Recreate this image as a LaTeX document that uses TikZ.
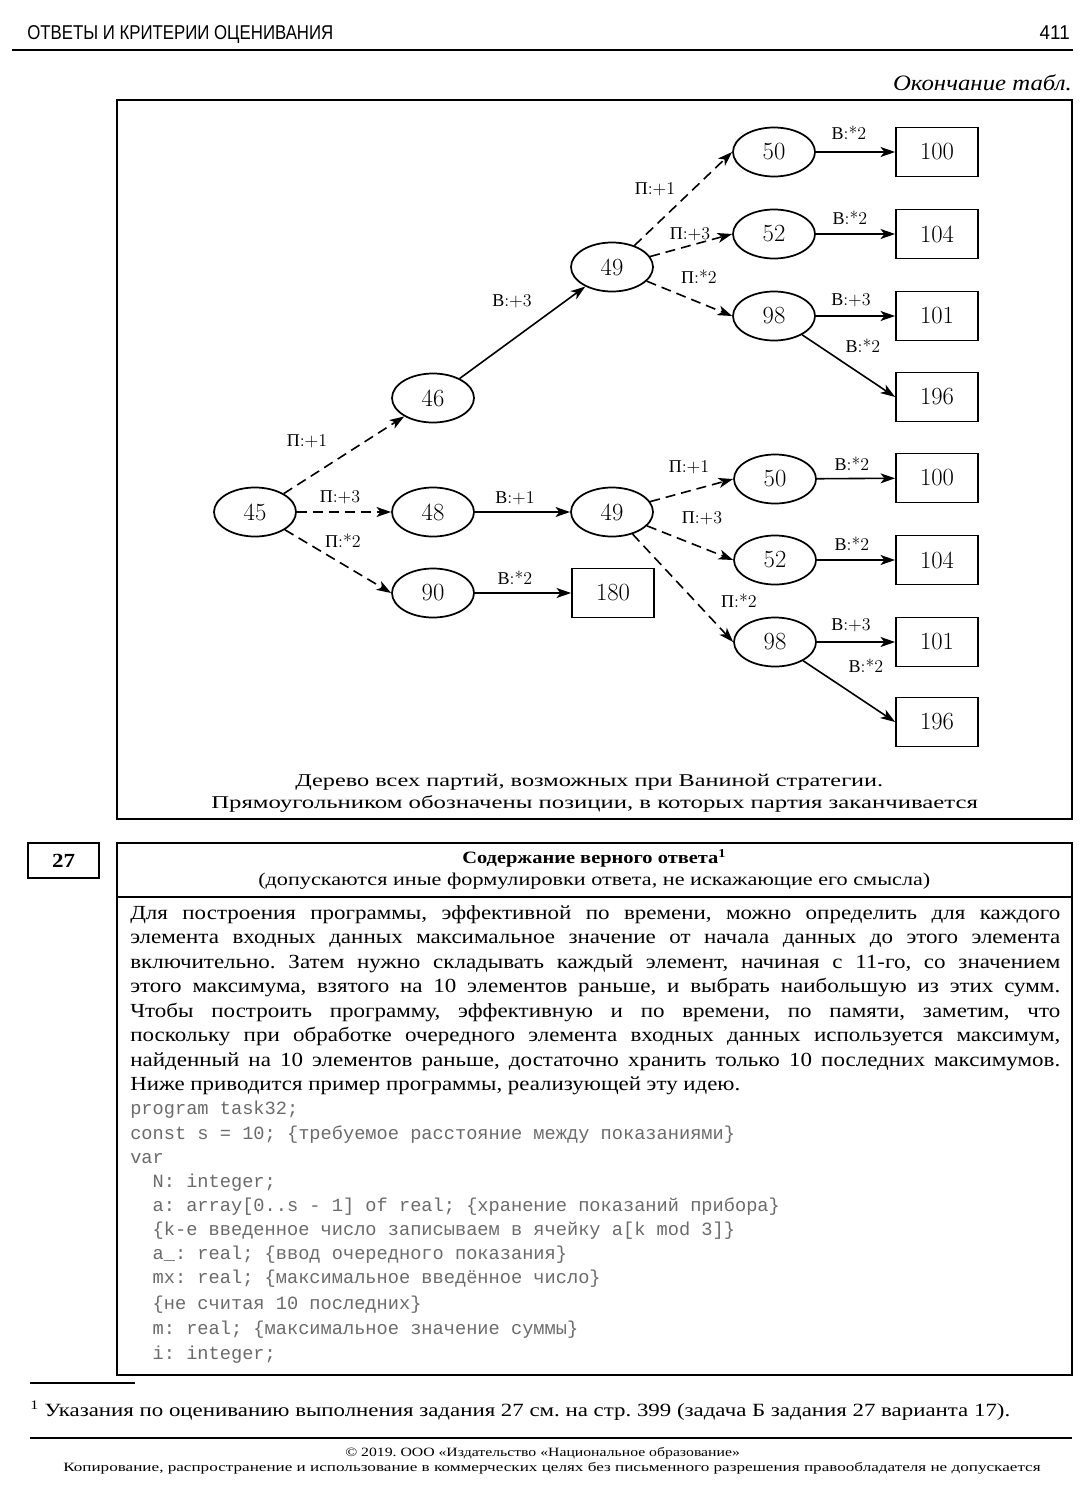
\documentclass[tikz,border=0pt]{standalone}
\usepackage{graphicx}
\usepackage{xcolor}
\usepackage{fontspec}
\setmainfont{Liberation Serif}[FakeStretch=1.15]
\newfontfamily\cyrf{Liberation Serif}
\newfontfamily\hdrf{Liberation Sans}
\newfontfamily\codef{Liberation Mono}
\usetikzlibrary{shapes.geometric,arrows.meta}
\newcommand\lmr{\fontfamily{lmr}\selectfont}
\newcommand\fitto[2]{\resizebox{#1}{\height}{#2}}
\newcommand\Pm{{\cyrf П}}
\newcommand\Vm{{\cyrf В}}
\newcommand\jline[1]{\makebox[697.5pt][s]{#1}}
\definecolor{codegray}{gray}{0.42}
\frenchspacing
\tikzset{
  ell/.style={ellipse, draw, line width=1.3pt, minimum width=61.5pt, minimum height=36.75pt, inner sep=0pt, font=\lmr\fontsize{18.5}{18.5}\selectfont},
  rbox/.style={rectangle, draw, line width=1.3pt, minimum width=61.5pt, minimum height=36.75pt, inner sep=0pt, font=\lmr\fontsize{18.5}{18.5}\selectfont},
  lbl/.style={inner sep=0pt, font=\lmr\fontsize{13.5}{13.5}\selectfont},
  pm/.style={line width=1.2pt, dash pattern=on 7.5pt off 4.5pt, -{Stealth[length=11pt,width=7.5pt,inset=3pt]}},
  vm/.style={line width=1.2pt, -{Stealth[length=11pt,width=7.5pt,inset=3pt]}},
  bodytxt/.style={anchor=base west, inner sep=0pt, font=\fontsize{15}{15}\selectfont},
  codetxt/.style={anchor=base west, inner sep=0pt, text=codegray, font=\codef\fontsize{14}{14}\selectfont},
  frameline/.style={line width=1pt}
}
\begin{document}
\begin{tikzpicture}[x=0.75pt,y=-0.75pt]
\useasboundingbox (0,0) rectangle (1087,1495);
\fill[white] (0,0) rectangle (1087,1495);

% page header
\node[anchor=base west, inner sep=0pt, font=\hdrf\fontsize{15}{15}\selectfont] (hdr) at (27,40) {\fitto{229.5pt}{ОТВЕТЫ И КРИТЕРИИ ОЦЕНИВАНИЯ}};
\node[anchor=base east, inner sep=0pt, font=\hdrf\fontsize{15}{15}\selectfont] (pnum) at (1070,40) {\fitto{22.5pt}{411}};
\draw[line width=0.9pt] (12,50) -- (1073,50);
\node[anchor=base east, inner sep=0pt, font=\itshape\fontsize{16.5}{16.5}\selectfont] (cont) at (1072,90) {\fitto{134pt}{Окончание табл.}};

% tree frame
\draw[frameline] (117,100) rectangle (1072,819);

% tree nodes
\node[ell] (n45) at (255,512) {45};
\node[ell] (n46) at (433,398) {46};
\node[ell] (n48) at (433,512) {48};
\node[ell] (n90) at (433,593) {90};
\node[rbox] (r180) at (613,593) {180};
\node[ell] (u49) at (612,267) {49};
\node[ell] (l49) at (612,512) {49};
\node[ell] (u50) at (774,152) {50};
\node[ell] (u52) at (774,234) {52};
\node[ell] (u98) at (774,316) {98};
\node[rbox] (u100) at (937,152) {100};
\node[rbox] (u104) at (937,234) {104};
\node[rbox] (u101) at (937,316) {101};
\node[rbox] (u196) at (937,397) {196};
\node[ell] (l50) at (775,479) {50};
\node[ell] (l52) at (775,560) {52};
\node[ell] (l98) at (775,642) {98};
\node[rbox] (l100) at (937,478) {100};
\node[rbox] (l104) at (937,560) {104};
\node[rbox] (l101) at (937,642) {101};
\node[rbox] (l196) at (937,722) {196};

% edges
\draw[pm] (n45) -- (n46);
\draw[pm] (n45) -- (n48);
\draw[pm] (n45) -- (n90.west);
\draw[vm] (n46) -- (u49);
\draw[vm] (n48) -- (l49);
\draw[vm] (n90) -- (r180);
\draw[pm] (u49) -- (u50.west);
\draw[pm] (u49) -- (u52.west);
\draw[pm] (u49) -- (u98.west);
\draw[vm] (u50) -- (u100);
\draw[vm] (u52) -- (u104);
\draw[vm] (u98) -- (u101);
\draw[vm] (u98) -- (u196.west);
\draw[pm] (l49) -- (l50.west);
\draw[pm] (l49) -- (l52.west);
\draw[pm] (l49) -- (l98.west);
\draw[vm] (l50) -- (l100);
\draw[vm] (l52) -- (l104);
\draw[vm] (l98) -- (l101);
\draw[vm] (l98) -- (l196.west);

% edge labels
\node[lbl] (a1) at (307,441) {\Pm:+1};
\node[lbl] (a2) at (340,497) {\Pm:+3};
\node[lbl] (a3) at (343,541) {\Pm:*2};
\node[lbl] (a4) at (512,301) {\Vm:+3};
\node[lbl] (a5) at (515,498) {\Vm:+1};
\node[lbl] (a6) at (515,578) {\Vm:*2};
\node[lbl] (a7) at (655,189) {\Pm:+1};
\node[lbl] (a8) at (690,234) {\Pm:+3};
\node[lbl] (a9) at (699,277) {\Pm:*2};
\node[lbl] (a10) at (849,133) {\Vm:*2};
\node[lbl] (a11) at (850,218) {\Vm:*2};
\node[lbl] (a12) at (851,300) {\Vm:+3};
\node[lbl] (a13) at (863,346) {\Vm:*2};
\node[lbl] (a14) at (689,467) {\Pm:+1};
\node[lbl] (a15) at (702,518) {\Pm:+3};
\node[lbl] (a16) at (739,601) {\Pm:*2};
\node[lbl] (a17) at (852,464) {\Vm:*2};
\node[lbl] (a18) at (852,544) {\Vm:*2};
\node[lbl] (a19) at (851,625) {\Vm:+3};
\node[lbl] (a20) at (866,666) {\Vm:*2};

% caption
\node[anchor=base west, inner sep=0pt, font=\fontsize{13.5}{13.5}\selectfont] (cap1) at (295,786) {\fitto{441pt}{Дерево всех партий, возможных при Ваниной стратегии.}};
\node[anchor=base west, inner sep=0pt, font=\fontsize{13.5}{13.5}\selectfont] (cap2) at (211,808) {\fitto{575pt}{Прямоугольником обозначены позиции, в которых партия заканчивается}};

% task 27
\draw[frameline] (28,843) rectangle (99,878);
\node[inner sep=0pt, font=\bfseries\fontsize{15}{15}\selectfont] (num27) at (63.5,860.5) {27};
\draw[frameline] (117,843) rectangle (1072,1375);
\draw[frameline] (117,897) -- (1072,897);
\node[anchor=base west, inner sep=0pt, font=\bfseries\fontsize{13}{13}\selectfont] (th1) at (462,863) {\fitto{198pt}{Содержание верного ответа\textsuperscript{1}}};
\node[anchor=base west, inner sep=0pt, font=\fontsize{13.5}{13.5}\selectfont] (th2) at (258,885) {\fitto{504pt}{(допускаются иные формулировки ответа, не искажающие его смысла)}};

\node[bodytxt] (b1) at (130,919) {\jline{Для построения программы, эффективной по времени, можно определить для каждого}};
\node[bodytxt] (b2) at (130,943.5) {\jline{элемента входных данных максимальное значение от начала данных до этого элемента}};
\node[bodytxt] (b3) at (130,968) {\jline{включительно. Затем нужно складывать каждый элемент, начиная с 11-го, со значением}};
\node[bodytxt] (b4) at (130,992.5) {\jline{этого максимума, взятого на 10 элементов раньше, и выбрать наибольшую из этих сумм.}};
\node[bodytxt] (b5) at (130,1017) {\jline{Чтобы построить программу, эффективную и по времени, по памяти, заметим, что}};
\node[bodytxt] (b6) at (130,1041.5) {\jline{поскольку при обработке очередного элемента входных данных используется максимум,}};
\node[bodytxt] (b7) at (130,1066) {\jline{найденный на 10 элементов раньше, достаточно хранить только 10 последних максимумов.}};
\node[bodytxt] (b8) at (130,1090.5) {\fitto{457.5pt}{Ниже приводится пример программы, реализующей эту идею.}};

\node[codetxt] (c1) at (130,1114.5) {program task32;};
\node[codetxt] (c2) at (130,1139) {const s = 10; \{требуемое расстояние между показаниями\}};
\node[codetxt] (c3) at (130,1163.5) {var};
\node[codetxt] (c4) at (130,1187.5) {\ \ N: integer;};
\node[codetxt] (c5) at (130,1211.5) {\ \ a: array[0..s - 1] of real; \{хранение показаний прибора\}};
\node[codetxt] (c6) at (130,1235.5) {\ \ \{k-е введенное число записываем в ячейку a[k mod 3]\}};
\node[codetxt] (c7) at (130,1259.5) {\ \ a\_: real; \{ввод очередного показания\}};
\node[codetxt] (c8) at (130,1283.5) {\ \ mx: real; \{максимальное введённое число\}};
\node[codetxt] (c9) at (130,1309.5) {\ \ \{не считая 10 последних\}};
\node[codetxt] (c10) at (130,1334.5) {\ \ m: real; \{максимальное значение суммы\}};
\node[codetxt] (c11) at (130,1359.5) {\ \ i: integer;};

% footnote
\draw[line width=0.8pt] (30,1383) -- (135,1383);
\node[anchor=base west, inner sep=0pt, font=\fontsize{14}{14}\selectfont] (fn) at (30,1416) {\fitto{735pt}{\textsuperscript{1} Указания по оцениванию выполнения задания 27 см. на стр. 399 (задача Б задания 27 варианта 17).}};

% page footer
\draw[line width=0.9pt] (30,1438) -- (1072,1438);
\node[anchor=base west, inner sep=0pt, font=\fontsize{9.5}{9.5}\selectfont] (ft1) at (345,1456) {\fitto{296pt}{© 2019. ООО «Издательство «Национальное образование»}};
\node[anchor=base west, inner sep=0pt, font=\fontsize{9.5}{9.5}\selectfont] (ft2) at (63,1471) {\fitto{733pt}{Копирование, распространение и использование в коммерческих целях без письменного разрешения правообладателя не допускается}};
\end{tikzpicture}
\end{document}
